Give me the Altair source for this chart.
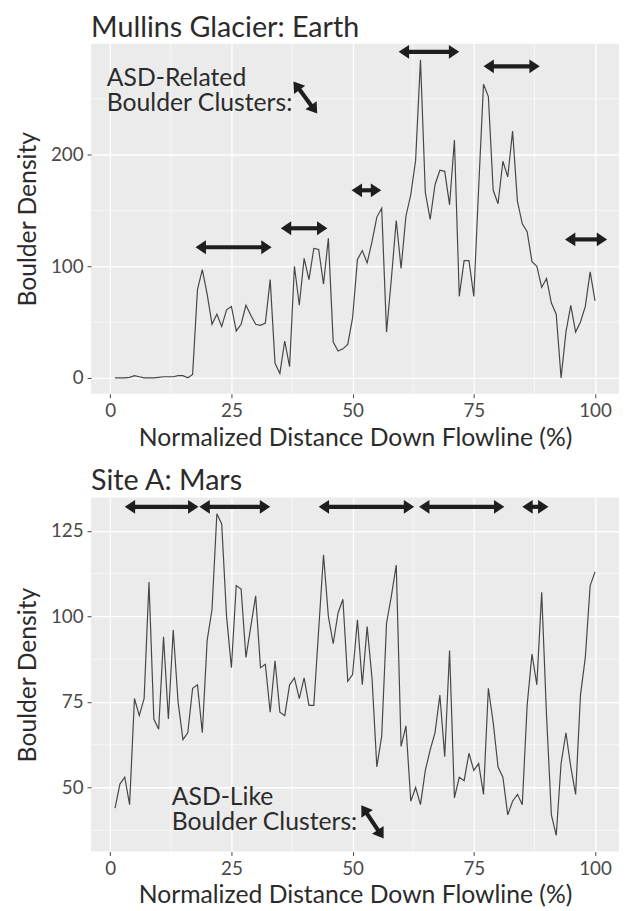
import math
import altair as alt
import pandas as pd

# ---------------- data ----------------
distance = list(range(1, 101))

earth_density = [
    0, 0, 0, 0.5, 2, 1, 0, 0, 0, 0.5,
    1, 1, 1, 2, 2, 0, 3, 79, 97, 75,
    48, 57, 46, 61, 64, 42, 48, 65, 56, 48,
    47, 49, 88, 13, 4, 33, 10, 100, 65, 107,
    88, 116, 115, 84, 125, 32, 24, 26, 30, 54,
    106, 114, 103, 122, 144, 152, 41, 89, 141, 98,
    145, 164, 195, 285, 166, 142, 173, 186, 185, 155,
    213, 73, 105, 105, 73, 170, 263, 252, 168, 156,
    194, 180, 221, 158, 138, 131, 104, 100, 81, 89,
    67, 57, 0, 41, 65, 41, 50, 64, 95, 69,
]

mars_density = [
    44, 51, 53, 45, 76, 71, 76, 110, 70, 67,
    94, 70, 96, 75, 64, 66, 79, 80, 66, 93,
    102, 130, 127, 100, 85, 109, 108, 88, 97, 106,
    85, 86, 72, 87, 72, 71, 80, 82, 76, 82,
    74, 74, 96, 118, 100, 92, 101, 105, 81, 83,
    99, 80, 97, 82, 56, 65, 98, 106, 115, 62,
    68, 46, 50, 45, 55, 61, 66, 77, 59, 90,
    47, 53, 52, 60, 55, 57, 48, 79, 69, 56,
    53, 42, 46, 48, 45, 74, 89, 80, 107, 71,
    42, 36, 57, 66, 56, 48, 77, 88, 109, 113,
]

x_ticks = [0, 25, 50, 75, 100]
x_minor = [12.5, 37.5, 62.5, 87.5]
earth_y_ticks = [0, 100, 200]
earth_y_minor = [50, 150, 250]
mars_y_ticks = [50, 75, 100, 125]
mars_y_minor = [37.5, 62.5, 87.5, 112.5]

earth_arrow_start = [17.6, 35.2, 49.8, 59.5, 77.0, 93.8]
earth_arrow_end = [33.3, 44.8, 55.9, 72.0, 88.6, 102.5]
earth_arrow_level = [117, 134, 168, 292, 279, 124]
earth_pointer = [37.8, 265.5, 42.7, 236.7]
earth_label = "ASD-Related\nBoulder Clusters:"
earth_label_pos = [-0.7, 261]

mars_arrow_start = [3.0, 18.4, 43.0, 63.7, 85.0]
mars_arrow_end = [18.2, 33.0, 62.7, 81.3, 90.4]
mars_arrow_level = [132, 132, 132, 132, 132]
mars_pointer = [51.8, 44.8, 56.4, 35.1]
mars_label = "ASD-Like\nBoulder Clusters:"
mars_label_pos = [12.7, 44.8]

# ---------------- styling ----------------
FONT = "Lato"
TEXT = "#2b2b2b"
W = 534
HEAD_PATH = "M0,0 L1,1.5 L-1,1.5 Z"
HEAD_SIZE = 196
HEAD_INSET = 9


def panel(title, dens, y_ticks, y_minor, starts, ends, levels, pointer, label, label_pos, h):
    xmin, xmax = min(distance), max(distance)
    xpad = 0.05 * (xmax - xmin)
    xdom = [xmin - xpad, xmax + xpad]
    ymin, ymax = min(dens), max(dens)
    ypad = 0.05 * (ymax - ymin)
    ydom = [ymin - ypad, ymax + ypad]
    xs = alt.Scale(domain=xdom, nice=False, zero=False)
    ys = alt.Scale(domain=ydom, nice=False, zero=False)
    xaxis = alt.Axis(values=x_ticks, title="Normalized Distance Down Flowline (%)",
                     titlePadding=5, labelPadding=4)
    yaxis = alt.Axis(values=y_ticks, title="Boulder Density", titlePadding=10, labelPadding=4)
    px_x = W / (xdom[1] - xdom[0])
    px_y = h / (ydom[1] - ydom[0])

    segs = [(s, l, e, l) for s, e, l in zip(starts, ends, levels)] + [tuple(pointer)]
    shafts, heads = [], []
    for (x1, y1, x2, y2) in segs:
        dxp = (x2 - x1) * px_x
        dyp = -(y2 - y1) * px_y
        L = math.hypot(dxp, dyp)
        ux, uy = dxp / L, dyp / L
        ix = ux * HEAD_INSET / px_x
        iy = -uy * HEAD_INSET / px_y
        shafts.append(dict(x=x1 + ix, y=y1 + iy, x2=x2 - ix, y2=y2 - iy))
        ang = math.degrees(math.atan2(ux, -uy)) % 360
        heads.append(dict(x=x2, y=y2, a=ang))
        heads.append(dict(x=x1, y=y1, a=(ang + 180) % 360))

    X = lambda f: alt.X(f"{f}:Q", scale=xs, axis=xaxis)
    Y = lambda f: alt.Y(f"{f}:Q", scale=ys, axis=yaxis)

    gx = alt.Chart(pd.DataFrame({"x": x_minor})).mark_rule(
        color="white", strokeWidth=0.6).encode(x=X("x"))
    gy = alt.Chart(pd.DataFrame({"y": y_minor})).mark_rule(
        color="white", strokeWidth=0.6).encode(y=Y("y"))
    line = alt.Chart(pd.DataFrame({"x": distance, "y": dens})).mark_line(
        color="#474747", strokeWidth=1.2).encode(x=X("x"), y=Y("y"))
    shaft = alt.Chart(pd.DataFrame(shafts)).mark_rule(
        color="#1e1e1e", strokeWidth=4.2).encode(x=X("x"), y=Y("y"), x2="x2:Q", y2="y2:Q")
    head = alt.Chart(pd.DataFrame(heads)).mark_point(
        shape=HEAD_PATH, filled=True, size=HEAD_SIZE, color="#1e1e1e", opacity=1).encode(
        x=X("x"), y=Y("y"), angle=alt.Angle("a:Q", scale=None))
    txt = alt.Chart(pd.DataFrame({"x": [label_pos[0]], "y": [label_pos[1]], "t": [label]})).mark_text(
        align="left", baseline="alphabetic", font=FONT, fontSize=25, lineHeight=24.5,
        lineBreak="\n", color=TEXT).encode(x=X("x"), y=Y("y"), text="t:N")

    return alt.layer(gx, gy, line, shaft, head, txt).properties(
        width=W, height=h,
        title=alt.TitleParams(title, anchor="start", frame="group", fontSize=29, font=FONT,
                              fontWeight="normal", color=TEXT, offset=1))


top = panel("Mullins Glacier: Earth", earth_density, earth_y_ticks, earth_y_minor,
            earth_arrow_start, earth_arrow_end, earth_arrow_level, earth_pointer,
            earth_label, earth_label_pos, 354)
bottom = panel("Site A: Mars", mars_density, mars_y_ticks, mars_y_minor,
               mars_arrow_start, mars_arrow_end, mars_arrow_level, mars_pointer,
               mars_label, mars_label_pos, 358)

chart = alt.vconcat(top, bottom, spacing=17).properties(
    padding={"left": 7, "top": 0, "right": 0, "bottom": 0},
    background="white",
).configure_view(fill="#EBEBEB", stroke=None).configure_axis(
    labelFont=FONT, labelFontSize=19, labelColor="#4a4a4a",
    titleFont=FONT, titleFontSize=25, titleFontWeight="normal", titleColor=TEXT,
    tickColor="#444444", tickSize=4, tickWidth=1, domain=False,
    gridColor="white", gridWidth=1.3,
)

chart.save("out.html", embed_options={"renderer": "svg", "actions": False})
